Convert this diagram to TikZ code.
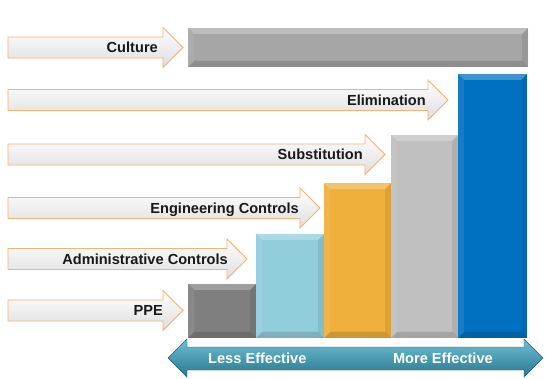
\documentclass[tikz,border=0pt]{standalone}
\usepackage{xcolor}
\usepackage{fontspec}
\setmainfont{Liberation Sans}
\usepackage{tikz}
\usetikzlibrary{positioning, arrows.meta, shadows}

\definecolor{rimorange}{RGB}{244,177,120}
\definecolor{ppegray}{RGB}{127,127,127}
\definecolor{adminblue}{RGB}{146,205,220}
\definecolor{enggold}{RGB}{240,176,60}
\definecolor{subsilver}{RGB}{192,192,192}
\definecolor{elimblue}{RGB}{0,112,192}
\definecolor{culturegray}{RGB}{166,166,166}
\definecolor{tealtop}{RGB}{112,192,212}
\definecolor{tealbottom}{RGB}{38,118,142}

\begin{document}
\begin{tikzpicture}[
    x=1pt, y=-1pt,
    pointer/.style={draw=rimorange, line width=0.9pt, top color=white, bottom color=black!13, line join=miter},
    label/.style={font=\fontsize{14.6}{16}\selectfont\bfseries, text=black!90, inner sep=0pt, text height=10.4pt, text depth=0pt},
    effect/.style={label, text=white},
    bar/.style={rectangle, minimum width=#1, inner sep=0pt, anchor=south west,
        path picture={
            \fill[white, opacity=.25] (path picture bounding box.north west) -- (path picture bounding box.north east)
                -- ([shift={(-6pt,-6pt)}]path picture bounding box.north east) -- ([shift={(6pt,-6pt)}]path picture bounding box.north west) -- cycle;
            \fill[white, opacity=.08] (path picture bounding box.north west) -- ([shift={(6pt,-6pt)}]path picture bounding box.north west)
                -- ([shift={(6pt,6pt)}]path picture bounding box.south west) -- (path picture bounding box.south west) -- cycle;
            \fill[black, opacity=.08] (path picture bounding box.north east) -- ([shift={(-6pt,-6pt)}]path picture bounding box.north east)
                -- ([shift={(-6pt,6pt)}]path picture bounding box.south east) -- (path picture bounding box.south east) -- cycle;
            \fill[black, opacity=.14] (path picture bounding box.south west) -- (path picture bounding box.south east)
                -- ([shift={(-6pt,6pt)}]path picture bounding box.south east) -- ([shift={(6pt,6pt)}]path picture bounding box.south west) -- cycle;
        }}
]
\useasboundingbox (0,0) rectangle (545,378);

% Bars
\node[bar=340, minimum height=39, fill=culturegray] (culturebar) at (188,67) {};
\node[bar=68, minimum height=54, fill=ppegray] (ppebar) at (188,338) {};
\node[bar=68, minimum height=104, fill=adminblue] (adminbar) at (256,338) {};
\node[bar=67, minimum height=155, fill=enggold] (engbar) at (324,338) {};
\node[bar=67, minimum height=203, fill=subsilver] (subbar) at (391,338) {};
\node[bar=69, minimum height=264, fill=elimblue] (elimbar) at (458,338) {};

% Arrows
\draw[pointer] (8,37) -- (163,37) -- (163,27.5) -- (183,47.5) -- (163,67.5) -- (163,58) -- (8,58) -- cycle;
\draw[pointer] (8,89.5) -- (428,89.5) -- (428,80) -- (448,100) -- (428,120) -- (428,110.5) -- (8,110.5) -- cycle;
\draw[pointer] (8,144) -- (365,144) -- (365,134.5) -- (385,154.5) -- (365,174.5) -- (365,165) -- (8,165) -- cycle;
\draw[pointer] (8,197.5) -- (300,197.5) -- (300,188) -- (320,208) -- (300,228) -- (300,218.5) -- (8,218.5) -- cycle;
\draw[pointer] (8,248.5) -- (227,248.5) -- (227,239) -- (247,259) -- (227,279) -- (227,269.5) -- (8,269.5) -- cycle;
\draw[pointer] (8,300) -- (163,300) -- (163,290.5) -- (183,310.5) -- (163,330.5) -- (163,321) -- (8,321) -- cycle;

% Labels
\node[label, anchor=east] (culture) at (158,47.5) {Culture};
\node[label, anchor=east] (elimination) at (426,100) {Elimination};
\node[label, anchor=east] (substitution) at (363,154.5) {Substitution};
\node[label, anchor=east] (engineering) at (299,208) {Engineering Controls};
\node[label, anchor=east] (administrative) at (228,259) {Administrative Controls};
\node[label, anchor=east] (ppe) at (163,310.5) {PPE};

% Effectiveness scale
\draw[draw=tealbottom!80!black, line width=0.4pt, top color=tealtop, bottom color=tealbottom]
    (168,358) -- (187,339) -- (187,347) -- (524,347) -- (524,339) -- (543,358)
    -- (524,377) -- (524,370) -- (187,370) -- (187,377) -- cycle;
\node[effect, anchor=west] (less) at (208,358.5) {Less Effective};
\node[effect, anchor=east] (more) at (493,358.5) {More Effective};

\end{tikzpicture}
\end{document}
